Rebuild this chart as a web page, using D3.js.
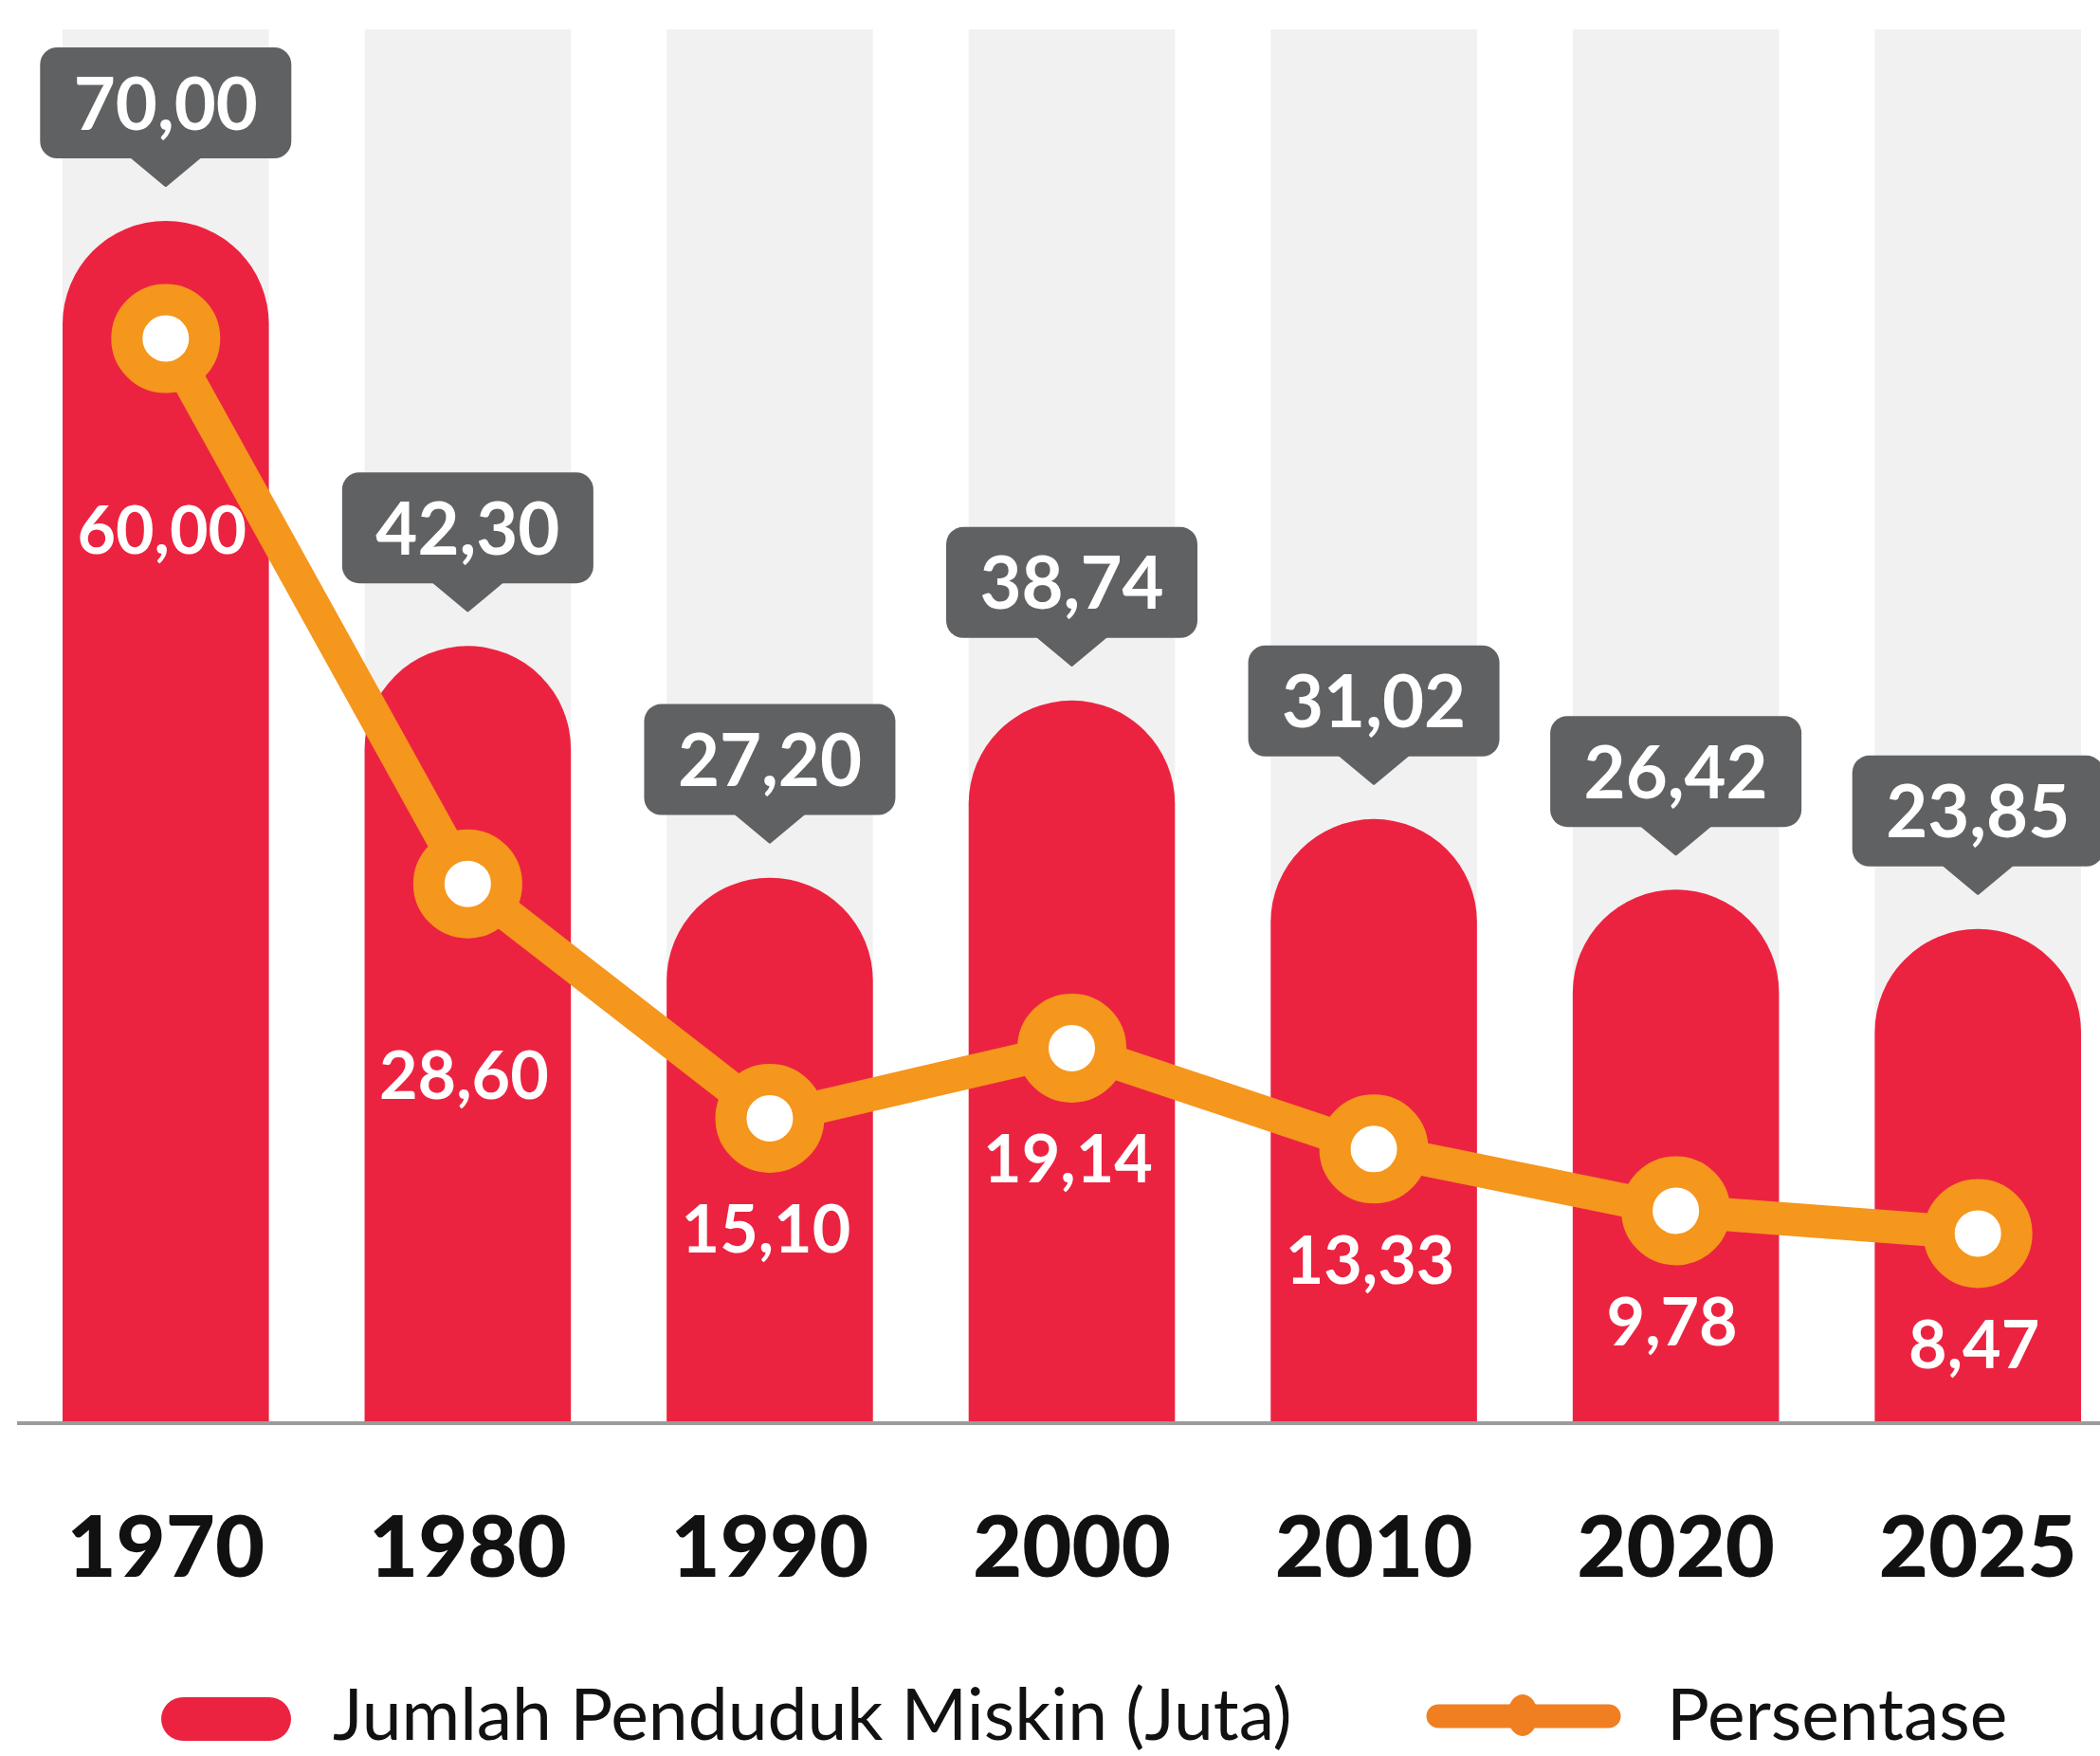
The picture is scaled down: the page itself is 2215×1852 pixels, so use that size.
<!DOCTYPE html>
<html>
<head>
<meta charset="utf-8">
<script src="https://cdn.jsdelivr.net/npm/d3@7"></script>
<style>
  body { margin: 0; background: #fff; }
  svg { display: block; font-family: Lato, "Open Sans", sans-serif; }
</style>
</head>
<body>
<svg width="2215" height="1852"></svg>
<script>
const svg = d3.select("svg");

const width = +svg.attr("width");
const height = +svg.attr("height");

const years = ["1970", "1980", "1990", "2000", "2010", "2020", "2025"];
const poorMillions = [70.00, 42.30, 27.20, 38.74, 31.02, 26.42, 23.85];
const poorPercent = [60.00, 28.60, 15.10, 19.14, 13.33, 9.78, 8.47];
const legendLabels = ["Jumlah Penduduk Miskin (Juta)", "Persentase"];

const rows = years.map(function(y, i) {
    return {year: y, jumlah: poorMillions[i], persen: poorPercent[i]};
});

const red = "#ec2340";
const orange = "#f5961d";
const boxGrey = "#606163";

const baseY = 1500;
const colTop = 31;

const fmt = d3.formatLocale({decimal: ",", thousands: ".", grouping: [3], currency: ["Rp", ""]})
    .format(".2f");

//====== Scales ======

const x = d3.scaleBand()
    .domain(years)
    .range([66, 2195])
    .paddingInner(0.317)
    .paddingOuter(0);

// the bars and the line each have their own (hidden) value axis
const yBar = d3.scaleLinear()
    .domain([-8.3, 70])
    .range([baseY, 233]);

const yLine = d3.scaleLinear()
    .domain([-2.4, 60])
    .range([baseY, 357]);

const bw = x.bandwidth();
const r = bw / 2;

//====== Background columns ======

svg.append("g")
    .selectAll("rect")
    .data(rows)
    .enter().append("rect")
        .attr("x", function(d) { return x(d.year) })
        .attr("y", colTop)
        .attr("width", bw)
        .attr("height", baseY - colTop)
        .attr("fill", "#f1f1f1");

//====== Bars (rounded tops) ======

svg.append("g")
    .selectAll("path")
    .data(rows)
    .enter().append("path")
        .attr("fill", red)
        .attr("d", function(d) {
            const x0 = x(d.year), top = yBar(d.jumlah);
            return "M" + x0 + "," + baseY
                + "V" + (top + r)
                + "A" + r + "," + r + " 0 0 1 " + (x0 + bw) + "," + (top + r)
                + "V" + baseY + "Z";
        });

// baseline
svg.append("line")
    .attr("x1", 18)
    .attr("x2", width)
    .attr("y1", baseY + 1)
    .attr("y2", baseY + 1)
    .attr("stroke", "#9b9b9b")
    .attr("stroke-width", 4);

//====== Grey call-out labels above bars ======

const boxW = 265, boxH = 117;

const callout = svg.append("g")
    .selectAll("g")
    .data(rows)
    .enter().append("g")
        .attr("transform", function(d) {
            return "translate(" + (x(d.year) + bw / 2) + "," + (yBar(d.jumlah) - 36) + ")";
        });

callout.append("rect")
    .attr("x", -boxW / 2)
    .attr("y", -30 - boxH)
    .attr("width", boxW)
    .attr("height", boxH)
    .attr("rx", 18)
    .attr("fill", boxGrey);

callout.append("path")
    .attr("d", "M-36,-32 L0,-2 L36,-32 Z")
    .attr("fill", boxGrey)
    .attr("stroke", boxGrey)
    .attr("stroke-width", 4)
    .attr("stroke-linejoin", "round");

callout.append("text")
    .attr("x", 0)
    .attr("y", -30 - boxH / 2 + 28)
    .attr("text-anchor", "middle")
    .attr("fill", "#fff")
    .attr("font-size", 76)
    .attr("font-weight", 700)
    .text(function(d) { return fmt(d.jumlah) });

//====== Percentage line ======

const line = d3.line()
    .x(function(d) { return x(d.year) + bw / 2 })
    .y(function(d) { return yLine(d.persen) });

svg.append("path")
    .datum(rows)
    .attr("d", line)
    .attr("fill", "none")
    .attr("stroke", orange)
    .attr("stroke-width", 35)
    .attr("stroke-linejoin", "round");

svg.append("g")
    .selectAll("circle")
    .data(rows)
    .enter().append("circle")
        .attr("cx", function(d) { return x(d.year) + bw / 2 })
        .attr("cy", function(d) { return yLine(d.persen) })
        .attr("r", 41)
        .attr("fill", "#fff")
        .attr("stroke", orange)
        .attr("stroke-width", 33);

// labels under the points, pushed further down where the line drops steeply
function labelOffset(d, i) {
    const next = rows[i + 1];
    const drop = next ? yLine(next.persen) - yLine(d.persen) : 0;
    return 142 + (drop > 150 ? 85 : 0);
}

svg.append("g")
    .selectAll("text")
    .data(rows)
    .enter().append("text")
        .attr("x", function(d) { return x(d.year) + bw / 2 - 4 })
        .attr("y", function(d, i) { return yLine(d.persen) + labelOffset(d, i) })
        .attr("text-anchor", "middle")
        .attr("fill", "#fff")
        .attr("font-size", 70)
        .attr("font-weight", 700)
        .text(function(d) { return fmt(d.persen) });

//====== Year axis ======

const xAxis = svg.append("g")
    .attr("transform", "translate(0," + baseY + ")")
    .call(d3.axisBottom(x).tickSize(0).tickPadding(163));

xAxis.select(".domain").remove();
xAxis.selectAll("text")
    .attr("font-family", "Lato, sans-serif")
    .attr("font-size", 90)
    .attr("font-weight", 900)
    .attr("fill", "#111")
    .attr("dy", 0);

//====== Legend ======

const legend = svg.append("g");

legend.append("rect")
    .attr("x", 170)
    .attr("y", 1790)
    .attr("width", 137)
    .attr("height", 46)
    .attr("rx", 23)
    .attr("fill", red);

legend.append("text")
    .attr("x", 351)
    .attr("y", 1835)
    .attr("font-size", 75)
    .attr("fill", "#111")
    .text(legendLabels[0]);

legend.append("line")
    .attr("x1", 1517)
    .attr("x2", 1697)
    .attr("y1", 1810)
    .attr("y2", 1810)
    .attr("stroke", "#f07f22")
    .attr("stroke-width", 25)
    .attr("stroke-linecap", "round");

legend.append("ellipse")
    .attr("cx", 1606)
    .attr("cy", 1809)
    .attr("rx", 16)
    .attr("ry", 22)
    .attr("fill", "#f07f22");

legend.append("text")
    .attr("x", 1758)
    .attr("y", 1835)
    .attr("font-size", 75)
    .attr("fill", "#111")
    .text(legendLabels[1]);
</script>
</body>
</html>
